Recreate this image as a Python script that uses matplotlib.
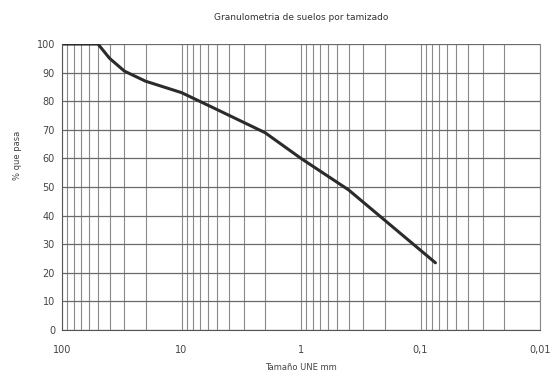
import matplotlib
matplotlib.use("Agg")
import matplotlib.pyplot as plt
from matplotlib.ticker import LogLocator, FixedLocator, FixedFormatter, NullFormatter

sizes_mm = [100, 50, 40, 30, 20, 10, 5, 2, 1, 0.4, 0.075]
pct_pass = [100, 100, 95, 90.5, 87, 83, 77, 69, 60, 49, 23.5]
xtick_vals = [100, 10, 1, 0.1, 0.01]
xtick_labels = ["100", "10", "1", "0,1", "0,01"]
ytick_vals = list(range(0, 101, 10))

fig = plt.figure(figsize=(5.55, 3.76), dpi=100)
ax = fig.add_axes([62/555, 1-330/376, (540-62)/555, (330-44)/376])

ax.set_xscale("log")
ax.set_xlim(100, 0.01)
ax.set_ylim(0, 100)

ax.xaxis.set_major_locator(FixedLocator(xtick_vals))
ax.xaxis.set_major_formatter(FixedFormatter(xtick_labels))
ax.xaxis.set_minor_locator(LogLocator(base=10, subs=range(2, 10)))
ax.xaxis.set_minor_formatter(NullFormatter())
ax.set_yticks(ytick_vals)

ax.grid(True, which="both", axis="x", color="#8a8a8a", lw=0.8)
ax.grid(True, which="major", axis="y", color="#6a6a6a", lw=0.9)
ax.set_axisbelow(True)

ax.plot(sizes_mm, pct_pass, color="#2b2b2b", lw=2.2, solid_capstyle="round",
        solid_joinstyle="round")

ax.spines["top"].set_visible(False)
ax.spines["left"].set_color("#555555")
ax.spines["bottom"].set_color("#555555")
ax.spines["right"].set_color("#8a8a8a")
ax.spines["right"].set_linewidth(0.8)

ax.tick_params(axis="both", which="both", length=0, labelsize=7, colors="#444444")
ax.tick_params(axis="x", pad=11)
ax.tick_params(axis="y", pad=5)

fig.text(301/555, 1-18/376, "Granulometria de suelos por tamizado", fontsize=6.5,
         color="#333333", ha="center", va="center")
ax.set_ylabel("% que pasa", fontsize=6, color="#444444")
ax.yaxis.set_label_coords((22-62)/478, (330-155)/286)
fig.text(301/555, 1-367/376, "Tamaño UNE mm", fontsize=6, color="#444444",
         ha="center", va="center")

fig.savefig("out.png", dpi=100)
